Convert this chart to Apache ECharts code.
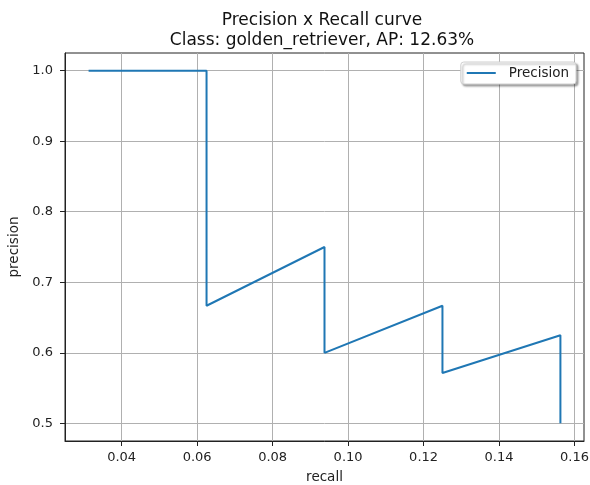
<!DOCTYPE html>
<html>
<head>
<meta charset="utf-8">
<script src="https://cdn.jsdelivr.net/npm/echarts@6/dist/echarts.min.js"></script>
<style>
html,body{margin:0;padding:0;background:#fff;}
#chart{width:590px;height:485px;}
</style>
</head>
<body>
<div id="chart"></div>
<script>
const recall = [0.03125, 0.0625, 0.0625, 0.09375, 0.09375, 0.125, 0.125, 0.15625, 0.15625, 0.15625];
const precision = [1.0, 1.0, 0.6667, 0.75, 0.6, 0.6667, 0.5714, 0.625, 0.5556, 0.5];
const xTicks = [0.04, 0.06, 0.08, 0.10, 0.12, 0.14, 0.16];
const yTicks = [0.5, 0.6, 0.7, 0.8, 0.9, 1.0];
const titleLines = ['Precision x Recall curve', 'Class: golden_retriever, AP: 12.63%'];
const seriesName = 'Precision';

const FONT = 'DejaVu Sans';
const TXT = '#222';
const chart = echarts.init(document.getElementById('chart'), null, {renderer: 'canvas'});
const points = recall.map((r, i) => [r, precision[i]]);

chart.setOption({
  animation: false,
  backgroundColor: '#fff',
  textStyle: {fontFamily: FONT},
  title: {
    text: titleLines.join('\n'),
    left: 322,
    top: 11,
    textAlign: 'center',
    padding: 0,
    textStyle: {fontFamily: FONT, fontSize: 17, fontWeight: 'normal', color: '#111', lineHeight: 20}
  },
  grid: {
    left: 65, top: 53, right: 6, bottom: 44,
    outerBoundsMode: 'none',
    containLabel: false,
    show: true, borderColor: '#222', borderWidth: 1, backgroundColor: 'transparent'
  },
  legend: {
    data: [{name: seriesName, icon: 'rect'}],
    right: 14, top: 62,
    itemWidth: 29, itemHeight: 2,
    padding: [4, 7, 4, 6],
    itemGap: 10,
    backgroundColor: '#fff',
    borderColor: '#d0d0d0', borderWidth: 1, borderRadius: 3,
    shadowColor: 'rgba(0,0,0,0.35)', shadowBlur: 2, shadowOffsetX: 2, shadowOffsetY: 2,
    textStyle: {fontFamily: FONT, fontSize: 13.5, color: TXT, padding: [0, 0, 0, 8]}
  },
  xAxis: {
    type: 'value',
    min: 0.025, max: 0.1625,
    name: 'recall', nameLocation: 'middle', nameGap: 29,
    nameTextStyle: {fontFamily: FONT, fontSize: 13.5, color: TXT},
    axisLine: {show: true, onZero: false, lineStyle: {color: '#222', width: 1}},
    axisTick: {show: true, inside: false, length: 5, customValues: xTicks, lineStyle: {color: '#222'}},
    axisLabel: {customValues: xTicks, formatter: v => v.toFixed(2), fontFamily: FONT, fontSize: 13, color: TXT, margin: 10},
    splitLine: {show: true, lineStyle: {color: '#b0b0b0', width: 1}}
  },
  yAxis: {
    type: 'value',
    min: 0.475, max: 1.025,
    name: 'precision', nameLocation: 'middle', nameGap: 40, nameRotate: 90,
    nameTextStyle: {fontFamily: FONT, fontSize: 13.5, color: TXT},
    axisLine: {show: true, onZero: false, lineStyle: {color: '#222', width: 1}},
    axisTick: {show: true, inside: false, length: 5, customValues: yTicks, lineStyle: {color: '#222'}},
    axisLabel: {customValues: yTicks, formatter: v => v.toFixed(1), fontFamily: FONT, fontSize: 13, color: TXT, margin: 12},
    splitLine: {show: true, lineStyle: {color: '#b0b0b0', width: 1}}
  },
  series: [{
    name: seriesName,
    type: 'line',
    data: points,
    showSymbol: false,
    symbol: 'none',
    lineStyle: {color: '#1f77b4', width: 2},
    itemStyle: {color: '#1f77b4'}
  }]
});
</script>
</body>
</html>
